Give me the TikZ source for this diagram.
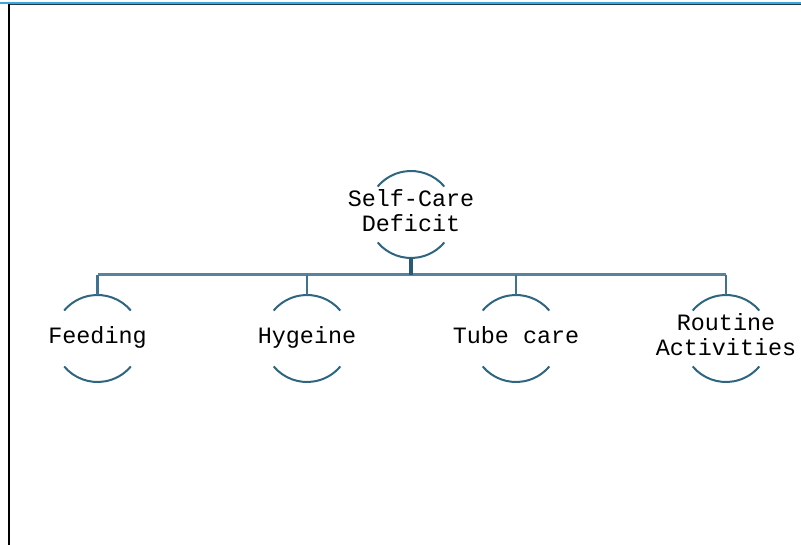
\documentclass[tikz,border=0pt]{standalone}
\usepackage{fontspec}
\newfontfamily\monof{Liberation Mono}
\definecolor{arccol}{HTML}{2E6580}
\definecolor{buscol}{HTML}{5583A0}
\definecolor{stemcol}{HTML}{285A75}
\definecolor{legcol}{HTML}{3F7290}
\definecolor{topblue}{HTML}{3DA5E0}
\definecolor{topdark}{HTML}{1E3A4C}
\begin{document}
\begin{tikzpicture}[x=1bp,y=1bp,
  conc/.style={rectangle,minimum height=87bp,minimum width=87bp,inner sep=0pt,
    align=center,font=\monof\fontsize{23.5}{24}\selectfont},
  arcline/.style={draw=arccol,line width=2bp},
  busline/.style={draw=buscol,line width=3bp},
  stemline/.style={draw=stemcol,line width=4bp},
  legline/.style={draw=legcol,line width=2.5bp}]
\useasboundingbox (0,0) rectangle (801,545);
% frame lines
\fill[topblue] (0,541) rectangle (801,543.2);
\fill[topdark] (8,540) rectangle (801,541.2);
\fill[black] (8.3,0) rectangle (10.3,541);
% nodes
\node[conc] (p) at (411,330.5) {\strut Self-Care\\\strut Deficit};
\node[conc] (c1) at (97.5,206.5) {\strut Feeding};
\node[conc] (c2) at (307,206.5) {\strut Hygeine};
\node[conc] (c3) at (516,206.5) {\strut Tube care};
\node[conc] (c4) at (726,206.5) {\strut Routine\\\strut Activities};
% arcs
\foreach \n in {p,c1,c2,c3,c4}{
  \draw[arcline] (\n.center) ++(40:43.5) arc[start angle=40,end angle=140,radius=43.5];
  \draw[arcline] (\n.center) ++(220:43.5) arc[start angle=220,end angle=320,radius=43.5];
}
% connectors
\coordinate (bus) at (411,270);
\draw[busline] (c1.north |- bus) -- (c4.north |- bus);
\draw[stemline] (p.south) -- (p.south |- bus);
\foreach \n in {c1,c2,c3,c4}{
  \draw[legline] (\n.north |- bus) -- (\n.north);
}
\end{tikzpicture}
\end{document}
